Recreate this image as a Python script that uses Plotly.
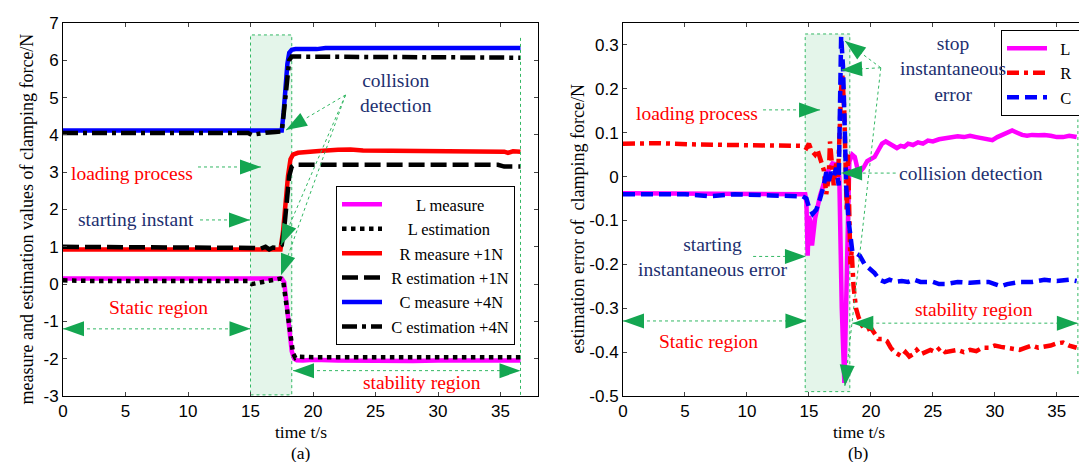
import plotly.graph_objects as go

# ---------------- data ----------------
# panel (a): measured / estimated clamping force
t_L_meas = [0, 4, 8, 12, 15, 16.5, 17.5, 17.7, 17.9, 18.1, 18.3, 18.5, 18.7, 19.2, 20, 22, 24, 26, 28, 30, 32, 34, 36.6]
L_meas = [0.15, 0.15, 0.14, 0.15, 0.15, 0.15, 0.15, 0.05, -0.6, -1.3, -1.8, -2.0, -2.04, -2.05, -2.03, -2.05, -2.06, -2.07, -2.06, -2.05, -2.06, -2.05, -2.05]

t_L_est = [0, 3, 8, 12, 14.8, 15.1, 15.5, 16.0, 16.5, 17.0, 17.4, 17.6, 17.8, 18.0, 18.2, 18.4, 18.6, 18.9, 20, 25, 30, 36.6]
L_est = [0.1, 0.08, 0.08, 0.08, 0.08, 0.0, 0.03, 0.06, 0.09, 0.12, 0.15, 0.12, -0.4, -1.0, -1.5, -1.85, -1.98, -1.95, -1.96, -1.96, -1.96, -1.96]

t_R_meas = [0, 5, 10, 15, 17.4, 17.6, 17.8, 18.0, 18.2, 18.4, 18.8, 19.5, 20.5, 22, 23, 24, 26, 28, 30, 32, 34, 35.3, 35.6, 36.0, 36.6]
R_meas = [0.93, 0.93, 0.93, 0.93, 0.93, 1.4, 2.2, 2.9, 3.35, 3.47, 3.52, 3.55, 3.57, 3.6, 3.61, 3.58, 3.58, 3.58, 3.58, 3.58, 3.58, 3.55, 3.52, 3.56, 3.55]

t_R_est = [0, 5, 10, 14.8, 15.3, 15.8, 16.2, 16.5, 16.8, 17.2, 17.5, 17.7, 17.9, 18.1, 18.3, 18.5, 20, 25, 30, 34.8, 35.3, 36.6]
R_est = [1.0, 1.0, 1.0, 1.0, 0.97, 0.95, 1.0, 0.93, 0.98, 0.97, 1.05, 1.5, 2.3, 2.9, 3.15, 3.2, 3.2, 3.2, 3.2, 3.2, 3.15, 3.15]

t_C_meas = [0, 5, 10, 15, 17.5, 17.65, 17.8, 17.95, 18.1, 18.3, 18.6, 19.0, 19.5, 20.3, 21, 25, 30, 36.6]
C_meas = [4.12, 4.12, 4.12, 4.12, 4.12, 4.6, 5.3, 5.9, 6.2, 6.28, 6.3, 6.3, 6.27, 6.3, 6.33, 6.33, 6.33, 6.33]

t_C_est = [0, 5, 10, 14.8, 15.1, 15.5, 16.2, 17.0, 17.5, 17.7, 17.9, 18.1, 18.3, 18.6, 20, 25, 30, 36.6]
C_est = [4.05, 4.05, 4.05, 4.05, 4.0, 4.03, 4.06, 4.08, 4.09, 4.7, 5.5, 6.0, 6.1, 6.1, 6.1, 6.1, 6.08, 6.07]

# panel (b): estimation error
t_L_err = [0, 3, 6, 9, 12, 14.7, 14.8, 14.9, 15.0, 15.1, 15.25, 15.5, 15.9, 16.5, 16.9, 17.3, 17.45, 17.65, 17.86, 18.05, 18.26, 18.5, 18.7, 18.9, 19.1, 19.4, 19.7, 20.0, 20.3, 20.6, 20.9, 21.2, 21.5, 21.8, 22.1, 22.4, 22.7, 23.0, 23.4, 23.8, 24.2, 24.6, 25.0, 25.5, 26.0, 26.5, 27.0, 27.5, 28.0, 28.5, 29.0, 29.4, 29.8, 30.2, 30.6, 31.0, 31.4, 31.8, 32.2, 32.6, 33.0, 33.5, 34.0, 34.5, 35.0, 35.5, 36.0, 36.6]
L_err = [-0.038, -0.038, -0.038, -0.039, -0.039, -0.04, -0.06, -0.18, -0.09, -0.1, -0.157, -0.095, -0.043, 0.011, 0.03, 0.027, 0.0, -0.3, -0.47, -0.2, 0.034, 0.05, 0.045, 0.02, 0.01, 0.02, 0.035, 0.04, 0.045, 0.06, 0.075, 0.08, 0.075, 0.07, 0.065, 0.07, 0.068, 0.075, 0.072, 0.078, 0.075, 0.082, 0.08, 0.085, 0.088, 0.09, 0.092, 0.09, 0.093, 0.09, 0.088, 0.085, 0.083, 0.09, 0.095, 0.1, 0.105, 0.1, 0.095, 0.093, 0.095, 0.094, 0.095, 0.093, 0.09, 0.09, 0.093, 0.09]

t_R_err = [0, 3, 6, 9, 12, 14.5, 14.8, 15.0, 15.2, 15.5, 15.7, 16.0, 16.2, 16.4, 16.6, 16.7, 16.9, 17.0, 17.2, 17.35, 17.6, 17.7, 17.85, 17.95, 18.05, 18.15, 18.25, 18.35, 18.45, 18.6, 18.8, 19.0, 19.3, 19.6, 20.0, 20.3, 20.6, 21.0, 21.3, 21.6, 21.9, 22.2, 22.5, 22.8, 23.1, 23.4, 23.7, 24.0, 24.4, 24.8, 25.2, 25.6, 26.0, 26.5, 27.0, 27.5, 28.0, 28.5, 29.0, 29.5, 30.0, 30.5, 31.0, 31.5, 32.0, 32.5, 33.0, 33.5, 34.0, 34.5, 35.0, 35.5, 36.0, 36.6]
R_err = [0.075, 0.076, 0.073, 0.072, 0.072, 0.07, 0.065, 0.075, 0.06, 0.05, 0.06, 0.035, 0.015, -0.04, 0.0, 0.08, 0.02, -0.02, 0.03, 0.0, 0.2, 0.23, 0.15, 0.0, -0.08, 0.05, -0.1, -0.2, -0.17, -0.25, -0.3, -0.32, -0.34, -0.35, -0.345, -0.36, -0.37, -0.37, -0.375, -0.39, -0.4, -0.405, -0.41, -0.4, -0.41, -0.405, -0.395, -0.405, -0.4, -0.395, -0.4, -0.39, -0.4, -0.398, -0.395, -0.4, -0.395, -0.398, -0.39, -0.39, -0.385, -0.388, -0.39, -0.392, -0.395, -0.39, -0.385, -0.39, -0.388, -0.385, -0.38, -0.378, -0.385, -0.39]

t_C_err = [0, 5, 7, 9, 12, 14.5, 14.8, 15.0, 15.3, 15.6, 15.9, 16.2, 16.4, 16.6, 16.8, 17.0, 17.2, 17.4, 17.6, 17.75, 17.9, 18.0, 18.2, 18.35, 18.5, 18.8, 19.1, 19.5, 19.9, 20.3, 20.7, 21.1, 21.5, 22.0, 22.5, 23.0, 23.5, 24.0, 24.5, 25.0, 25.5, 26.0, 27.0, 28.0, 29.0, 29.5, 30.0, 30.5, 31.0, 32.0, 33.0, 34.0, 35.0, 36.0, 36.6]
C_err = [-0.04, -0.04, -0.045, -0.04, -0.043, -0.045, -0.05, -0.07, -0.085, -0.075, -0.05, -0.02, 0.01, -0.01, 0.01, 0.0, 0.02, -0.02, 0.32, 0.25, 0.1, -0.02, -0.1, -0.14, -0.17, -0.175, -0.18, -0.2, -0.21, -0.22, -0.235, -0.24, -0.235, -0.24, -0.238, -0.24, -0.235, -0.24, -0.24, -0.24, -0.245, -0.245, -0.24, -0.242, -0.24, -0.24, -0.245, -0.25, -0.245, -0.24, -0.24, -0.235, -0.238, -0.235, -0.238]

# axis ticks
x_ticks = [0, 5, 10, 15, 20, 25, 30, 35]
ya_ticks = [-3, -2, -1, 0, 1, 2, 3, 4, 5, 6, 7]
ya_text = ["-3", "-2", "-1", "0", "1", "2", "3", "4", "5", "6", "7"]
yb_ticks = [-0.5, -0.4, -0.3, -0.2, -0.1, 0, 0.1, 0.2, 0.3]
yb_text = ["-0.5", "-0.4", "-0.3", "-0.2", "-0.1", "0", "0.1", "0.2", "0.3"]

NB = "\u00a0"
leg_a = [NB * 7 + "L measure", NB * 5 + "L estimation", NB * 3 + "R measure +1N",
         NB * 1 + "R estimation +1N", NB * 3 + "C measure +4N", NB * 1 + "C estimation +4N"]
leg_b = [NB * 2 + "L" + NB * 3, NB * 2 + "R" + NB * 3, NB * 2 + "C" + NB * 3]

# ---------------- layout geometry ----------------
W, H = 1087, 462
LX = (55, 530)
RX = (615, 1086)
PY = (15, 388)  # top, bottom in px
XR = [0, 38]
YA = [-3, 7]
YB = [-0.5, 0.35]

SERIF = "Times New Roman, Liberation Serif, serif"
SANS = "Arial, Liberation Sans, sans-serif"
NAVY = "#1d2f6f"
RED = "#ff0000"
GREEN = "#14a651"
DOTGREEN = "#33b864"
FILL = "#e4f5ea"
TS = 19.5  # annotation text size

fig = go.Figure()

def line(dash, color, width=4.5):
    return dict(color=color, width=width, dash=dash)

fig.add_trace(go.Scatter(x=t_L_meas, y=L_meas, name=leg_a[0], mode="lines", line=line("solid", "#ff00ff"), legend="legend"))
fig.add_trace(go.Scatter(x=t_L_est, y=L_est, name=leg_a[1], mode="lines", line=line("dot", "black"), legend="legend"))
fig.add_trace(go.Scatter(x=t_R_meas, y=R_meas, name=leg_a[2], mode="lines", line=line("solid", "#ff0000"), legend="legend"))
fig.add_trace(go.Scatter(x=t_R_est, y=R_est, name=leg_a[3], mode="lines", line=line("16px,6px", "black"), legend="legend"))
fig.add_trace(go.Scatter(x=t_C_meas, y=C_meas, name=leg_a[4], mode="lines", line=line("solid", "#0000ff"), legend="legend"))
fig.add_trace(go.Scatter(x=t_C_est, y=C_est, name=leg_a[5], mode="lines", line=line("15px,5px,4px,5px", "black"), legend="legend"))

fig.add_trace(go.Scatter(x=t_L_err, y=L_err, name=leg_b[0], mode="lines", line=line("solid", "#ff00ff"), xaxis="x2", yaxis="y2", legend="legend2"))
fig.add_trace(go.Scatter(x=t_R_err, y=R_err, name=leg_b[1], mode="lines", line=line("12px,5px,4px,5px", "#ff0000"), xaxis="x2", yaxis="y2", legend="legend2"))
fig.add_trace(go.Scatter(x=t_C_err, y=C_err, name=leg_b[2], mode="lines", line=line("12px,6px", "#0000ff"), xaxis="x2", yaxis="y2", legend="legend2"))

# ---------------- annotation helpers ----------------
def panel_geom(p):
    if p == "a":
        return LX, YA, "x", "y"
    return RX, YB, "x2", "y2"

def to_px(p, x, y):
    (x0, x1), yr, _, _ = panel_geom(p)
    return (x0 + (x - XR[0]) / (XR[1] - XR[0]) * (x1 - x0),
            PY[1] - (y - yr[0]) / (yr[1] - yr[0]) * (PY[1] - PY[0]))

def to_data(p, px, py):
    (x0, x1), yr, _, _ = panel_geom(p)
    return (XR[0] + (px - x0) / (x1 - x0) * (XR[1] - XR[0]),
            yr[0] + (PY[1] - py) / (PY[1] - PY[0]) * (yr[1] - yr[0]))

shapes = []
annos = []

def dotted(p, x0, y0, x1, y1):
    _, _, xr, yr = panel_geom(p)
    shapes.append(dict(type="line", xref=xr, yref=yr, x0=x0, y0=y0, x1=x1, y1=y1,
                       line=dict(color=DOTGREEN, width=1, dash="dot"), layer="above"))

def head(p, tail, tip, L=21, w=7.5):
    _, _, xr, yr = panel_geom(p)
    tx, ty = to_px(p, *tip)
    sx, sy = to_px(p, *tail)
    dx, dy = tx - sx, ty - sy
    n = (dx * dx + dy * dy) ** 0.5
    ux, uy = dx / n, dy / n
    bx, by = tx - L * ux, ty - L * uy
    pts = [(tx, ty), (bx - w * uy, by + w * ux), (bx + w * uy, by - w * ux)]
    d = [to_data(p, *q) for q in pts]
    path = "M{},{} L{},{} L{},{} Z".format(d[0][0], d[0][1], d[1][0], d[1][1], d[2][0], d[2][1])
    shapes.append(dict(type="path", xref=xr, yref=yr, path=path, fillcolor=GREEN,
                       line=dict(width=0), layer="above"))

def arrow(p, tail, tip):
    dotted(p, tail[0], tail[1], tip[0], tip[1])
    head(p, tail, tip)

def darrow(p, xa, xb, y):
    dotted(p, xa, y, xb, y)
    head(p, (xb, y), (xa, y))
    head(p, (xa, y), (xb, y))

def text(p, x, y, s, color, xanchor="center", size=TS):
    _, _, xr, yr = panel_geom(p)
    annos.append(dict(xref=xr, yref=yr, x=x, y=y, text=s, showarrow=False, xanchor=xanchor,
                      yanchor="middle", font=dict(family=SERIF, size=size, color=color)))

def box(p, x0, x1, y0, y1):
    _, _, xr, yr = panel_geom(p)
    shapes.append(dict(type="rect", xref=xr, yref=yr, x0=x0, x1=x1, y0=y0, y1=y1,
                       fillcolor=FILL, line=dict(color=DOTGREEN, width=1, dash="dot"), layer="below"))

def ptext(xpx, ypx, s, angle=0, size=18):
    annos.append(dict(xref="paper", yref="paper", x=xpx / W, y=1 - ypx / H, text=s, showarrow=False,
                      xanchor="center", yanchor="middle", textangle=angle,
                      font=dict(family=SERIF, size=size, color="black")))

# ---- panel (a) ----
box("a", 15.0, 18.3, -2.97, 6.68)
dotted("a", 36.6, -2.97, 36.6, 6.68)
text("a", 26.6, 5.12, "collision<br>detection", NAVY)
for tip in [(17.84, 4.13), (17.44, 1.05), (17.44, 0.24)]:
    arrow("a", (22.6, 5.07), tip)
text("a", 10.56, 2.97, "loading process", RED, xanchor="right")
arrow("a", (10.8, 3.14), (15.84, 3.14))
text("a", 10.6, 1.72, "starting instant", NAVY, xanchor="right")
arrow("a", (10.96, 1.72), (14.96, 1.72))
text("a", 7.6, -0.62, "Static region", RED)
darrow("a", 0.0, 15.0, -1.2)
text("a", 28.7, -2.64, "stability region", RED)
darrow("a", 18.4, 36.6, -2.32)

# ---- panel (b) ----
box("b", 14.7, 18.3, -0.49, 0.325)
dotted("b", 36.7, -0.45, 36.7, 0.13)
text("b", 11.05, 0.143, "loading process", RED, xanchor="right")
arrow("b", (11.3, 0.152), (15.9, 0.152))
text("b", 26.6, 0.245, "stop<br>instantaneous<br>error", NAVY)
for tip in [(17.9, 0.309), (17.6, 0.243), (17.9, -0.477)]:
    arrow("b", (20.8, 0.248), tip)
text("b", 22.1, 0.006, "collision detection", NAVY, xanchor="left")
arrow("b", (22.0, 0.008), (17.6, 0.008))
text("b", 7.26, -0.183, "starting<br>instantaneous error", NAVY)
arrow("b", (10.5, -0.182), (14.76, -0.182))
text("b", 6.9, -0.375, "Static region", RED)
darrow("b", 0.0, 14.8, -0.329)
text("b", 28.3, -0.304, "stability region", RED)
darrow("b", 18.5, 36.7, -0.334)

# axis titles and captions
ptext((LX[0] + LX[1]) / 2, 424, "time t/s", size=17.5)
ptext((RX[0] + RX[1]) / 2, 424, "time t/s", size=17.5)
ptext((LX[0] + LX[1]) / 2, 445, "(a)", size=17.5)
ptext((RX[0] + RX[1]) / 2, 445, "(b)", size=17.5)
ptext(18, (PY[0] + PY[1]) / 2 + 10, "measure and estimation values of clamping force/N", angle=-90)
ptext(569, (PY[0] + PY[1]) / 2 + 10, "estimation error of\u00a0 clamping force/N", angle=-90)

def xaxis(dom, anchor):
    return dict(domain=dom, range=XR, anchor=anchor, tickvals=x_ticks, ticks="inside", ticklen=4,
                showline=True, linecolor="black", linewidth=1, mirror="allticks", showgrid=False,
                zeroline=False, automargin=False, tickfont=dict(family=SANS, size=17, color="black"))

def yaxis(dom, anchor, rng, tv, tt):
    return dict(domain=dom, range=rng, anchor=anchor, tickvals=tv, ticktext=tt, ticks="inside", ticklen=4,
                showline=True, linecolor="black", linewidth=1, mirror="allticks", showgrid=False,
                zeroline=False, automargin=False, tickfont=dict(family=SANS, size=17, color="black"))

ydom = [1 - PY[1] / H, 1 - PY[0] / H]
legfont = dict(family=SERIF, size=16.5, color="black")
fig.update_layout(
    width=W, height=H,
    margin=dict(l=0, r=0, t=0, b=0),
    paper_bgcolor="white", plot_bgcolor="white",
    xaxis=xaxis([LX[0] / W, LX[1] / W], "y"),
    yaxis=yaxis(ydom, "x", YA, ya_ticks, ya_text),
    xaxis2=xaxis([RX[0] / W, RX[1] / W], "y2"),
    yaxis2=yaxis(ydom, "x2", YB, yb_ticks, yb_text),
    legend=dict(x=328 / W, y=1 - 178 / H, xanchor="left", yanchor="top", bgcolor="white",
                bordercolor="black", borderwidth=1, font=legfont, itemwidth=40),
    legend2=dict(x=993 / W, y=1 - 22 / H, xanchor="left", yanchor="top", bgcolor="white",
                 bordercolor="black", borderwidth=1, font=legfont, itemwidth=40),
    shapes=shapes, annotations=annos, showlegend=True,
)

fig.write_html("out.html")
